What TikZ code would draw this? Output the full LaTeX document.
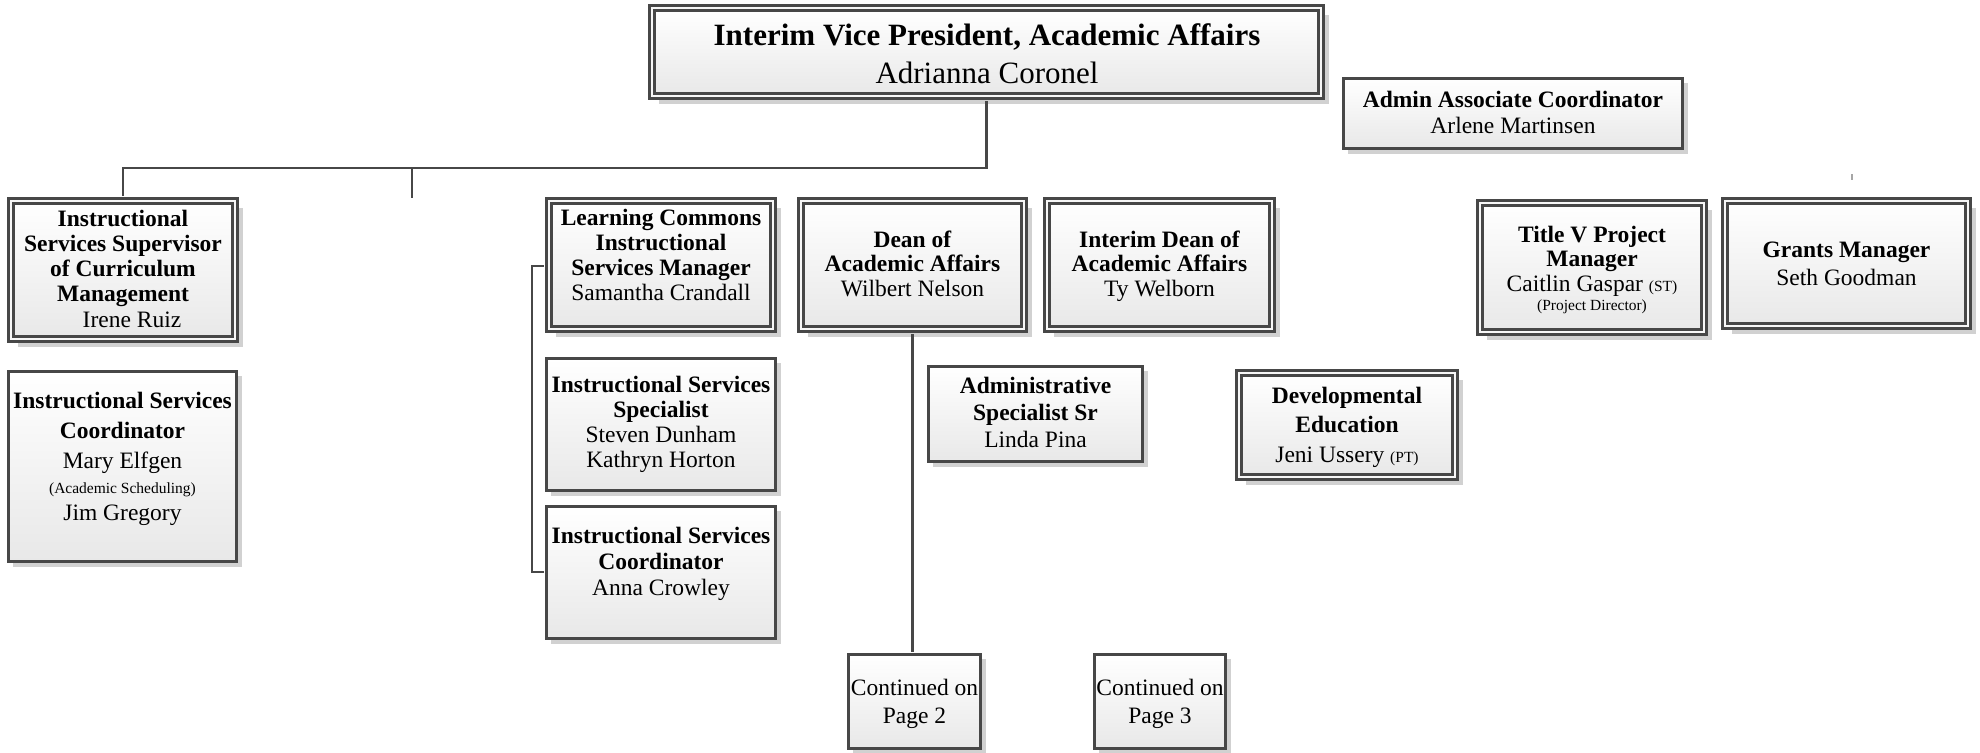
\documentclass[tikz,border=0pt]{standalone}
\usepackage{fontspec}
\setmainfont{Liberation Serif}
\usetikzlibrary{shadows}
\tikzset{
  boxbase/.style={rectangle, inner sep=0pt, top color=white, bottom color=black!9},
  sbox/.style={boxbase, draw=black!72, line width=2.6pt,
    drop shadow={shadow xshift=5pt, shadow yshift=-5pt, fill=black!18, opacity=1}},
  dbox/.style={boxbase, draw=black!72, line width=2.7pt, double=black!3, double distance=2.5pt,
    drop shadow={shadow xshift=7.5pt, shadow yshift=-7.5pt, fill=black!18, opacity=1}},
  conn/.style={draw=black!72, line width=2.4pt},
  txt/.style={align=center, inner sep=0pt, anchor=base, text=black},
  fnt/.style={font=\fontsize{23.5pt}{#1pt}\selectfont},
}
\newcommand{\smalltxt}[1]{{\fontsize{15.5pt}{17pt}\selectfont #1}}
\begin{document}
\begin{tikzpicture}[x=1pt,y=-1pt]
\useasboundingbox (0,0) rectangle (1980,752);
% boxes
\node[dbox, minimum width=669.1pt, minimum height=88.1pt] (vp) at (986.5,52) {};
\node[sbox, minimum width=339.4pt, minimum height=70.4pt] (aac) at (1513,113.5) {};
\node[dbox, minimum width=224.1pt, minimum height=138.1pt] (sup) at (123,270) {};
\node[sbox, minimum width=228.4pt, minimum height=190.4pt] (mary) at (122.5,466.5) {};
\node[dbox, minimum width=224.1pt, minimum height=128.1pt] (lc) at (661,265) {};
\node[sbox, minimum width=229.4pt, minimum height=132.4pt] (spec) at (661,424.5) {};
\node[sbox, minimum width=229.4pt, minimum height=132.4pt] (anna) at (661,572.5) {};
\node[dbox, minimum width=223.1pt, minimum height=128.1pt] (dean) at (912.5,265) {};
\node[dbox, minimum width=225.1pt, minimum height=128.1pt] (idean) at (1159.5,265) {};
\node[sbox, minimum width=214.4pt, minimum height=95.4pt] (adsp) at (1035.5,414) {};
\node[dbox, minimum width=216.1pt, minimum height=104.1pt] (dev) at (1347,425) {};
\node[dbox, minimum width=224.1pt, minimum height=129.1pt] (title) at (1592,267.5) {};
\node[dbox, minimum width=243.1pt, minimum height=125.1pt] (grants) at (1846.5,263.5) {};
\node[sbox, minimum width=132.4pt, minimum height=94.4pt] (c2) at (914.5,701.5) {};
\node[sbox, minimum width=131.4pt, minimum height=94.4pt] (c3) at (1160,701.5) {};
% texts
\node[txt, font=\fontsize{31pt}{38pt}\selectfont] (vpt) at (987,83)
  {\textbf{Interim Vice President, Academic Affairs}\\Adrianna Coronel};
\node[txt, fnt=26] (aact) at (1513,133) {\textbf{Admin Associate Coordinator}\\Arlene Martinsen};
\node[txt, fnt=25.2] (supt) at (123,327)
  {\textbf{Instructional}\\\textbf{Services Supervisor}\\\textbf{of Curriculum}\\\textbf{Management}\\\hspace*{18pt}Irene Ruiz};
\node[txt, fnt=30] (maryt) at (122.5,520)
  {\textbf{Instructional Services}\\\textbf{Coordinator}\\Mary Elfgen\\[-5pt]\smalltxt{(Academic Scheduling)}\\[-3pt]Jim Gregory};
\node[txt, fnt=25] (lct) at (661,300)
  {\textbf{Learning Commons}\\\textbf{Instructional}\\\textbf{Services Manager}\\Samantha Crandall};
\node[txt, fnt=24.7] (spect) at (661,467)
  {\textbf{Instructional Services}\\\textbf{Specialist}\\Steven Dunham\\Kathryn Horton};
\node[txt, fnt=26] (annat) at (661,595)
  {\textbf{Instructional Services}\\\textbf{Coordinator}\\Anna Crowley};
\node[txt, fnt=24.5] (deant) at (912.5,296)
  {\textbf{Dean of}\\\textbf{Academic Affairs}\\Wilbert Nelson};
\node[txt, fnt=24.5] (ideant) at (1159.5,296)
  {\textbf{Interim Dean of}\\\textbf{Academic Affairs}\\Ty Welborn};
\node[txt, fnt=27] (adspt) at (1035.5,447)
  {\textbf{Administrative}\\\textbf{Specialist Sr}\\Linda Pina};
\node[txt, fnt=29.5] (devt) at (1347,462)
  {\textbf{Developmental}\\\textbf{Education}\\Jeni Ussery \smalltxt{(PT)}};
\node[txt, fnt=24.5] (titlet) at (1592,310)
  {\textbf{Title V Project}\\\textbf{Manager}\\Caitlin Gaspar \smalltxt{(ST)}\\[-5.5pt]\smalltxt{(Project Director)}};
\node[txt, fnt=28] (grantst) at (1846.5,285)
  {\textbf{Grants Manager}\\Seth Goodman};
\node[txt, fnt=28] (c2t) at (914.5,723) {Continued on\\Page 2};
\node[txt, fnt=28] (c3t) at (1160,723) {Continued on\\Page 3};
% connectors
\coordinate (vpS) at ([yshift=-3.95pt]vp.south);
\coordinate (supN) at ([yshift=3.95pt]sup.north);
\coordinate (j1) at (986.5,168);
\coordinate (j2) at (412,168);
\coordinate (j2e) at (412,198);
\draw[conn] (vpS) -- (j1) -| (supN);
\draw[conn] (j2) -- (j2e);
\coordinate (lcW) at ([xshift=-3.95pt]lc.west);
\coordinate (annaW) at ([xshift=-1.3pt]anna.west);
\coordinate (b1) at (532,266);
\coordinate (b2) at (532,572);
\draw[conn] (lcW |- b1) -- (b1) -- (b2) -- (annaW |- b2);
\coordinate (deanS) at ([yshift=-3.95pt]dean.south);
\coordinate (c2N) at ([yshift=1.3pt]c2.north);
\draw[conn] (deanS) -- (deanS |- c2N);
\coordinate (tk1) at (1852,174);
\coordinate (tk2) at (1852,180);
\draw[black!35, line width=1.2pt] (tk1) -- (tk2);
\end{tikzpicture}
\end{document}
